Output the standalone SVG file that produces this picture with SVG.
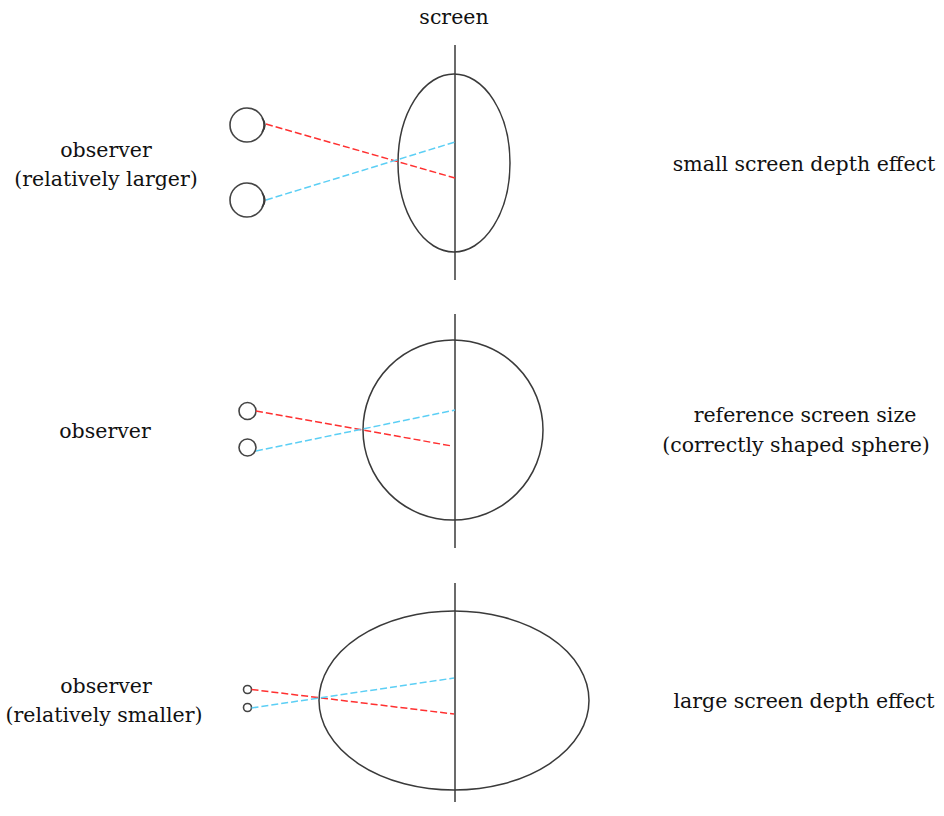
<svg xmlns="http://www.w3.org/2000/svg" width="944" height="816" viewBox="0 0 944 816">
<style>
.bg{fill:#ffffff}
.ln{fill:none;stroke:#3a3a3a;stroke-width:1.5}
.eye{fill:#ffffff;stroke:#444444;stroke-width:1.6}
.red{fill:none;stroke:#ff3030;stroke-width:1.5;stroke-dasharray:7 3}
.blue{fill:none;stroke:#5ccff5;stroke-width:1.5;stroke-dasharray:7 3}
.t{font-family:"DejaVu Serif","Liberation Serif",serif;font-size:20.5px;fill:#111111;text-anchor:middle}
</style>
<rect class="bg" x="0" y="0" width="944" height="816"/>
<g id="screen-label"><text class="t" x="454" y="24">screen</text></g>

<!-- top section -->
<g id="screen-top">
<ellipse class="ln" cx="454" cy="163" rx="56" ry="89"/>
<line class="ln" x1="455" y1="45" x2="455" y2="280"/>
</g>
<g id="eye-top-1">
<circle class="eye" cx="247" cy="125" r="17"/>
<path class="ln" d="M262,118 Q268,125 262,132"/>
</g>
<g id="eye-top-2">
<circle class="eye" cx="247" cy="200" r="17"/>
<path class="ln" d="M262,193 Q268,200 262,207"/>
</g>
<g id="label-top-left"><text class="t" x="106" y="157">observer</text><text class="t" x="106" y="186">(relatively larger)</text></g>
<g id="label-top-right"><text class="t" x="804" y="171">small screen depth effect</text></g>

<!-- middle section -->
<g id="screen-mid">
<circle class="ln" cx="453" cy="430" r="90"/>
<line class="ln" x1="455" y1="314" x2="455" y2="548"/>
</g>
<g id="eye-mid-1"><circle class="eye" cx="247.5" cy="411" r="8.5"/></g>
<g id="eye-mid-2"><circle class="eye" cx="247.5" cy="447.5" r="8.5"/></g>
<g id="label-mid-left"><text class="t" x="105" y="438">observer</text></g>
<g id="label-mid-right"><text class="t" x="805" y="422">reference screen size</text><text class="t" x="796" y="452">(correctly shaped sphere)</text></g>

<!-- bottom section -->
<g id="screen-bot">
<ellipse class="ln" cx="454" cy="700.5" rx="135" ry="89.5"/>
<line class="ln" x1="455" y1="583" x2="455" y2="802"/>
</g>
<g id="eye-bot-1"><circle class="eye" cx="247.5" cy="689.5" r="4"/></g>
<g id="eye-bot-2"><circle class="eye" cx="247.5" cy="707.5" r="4"/></g>
<g id="label-bot-left"><text class="t" x="106" y="693">observer</text><text class="t" x="104" y="722">(relatively smaller)</text></g>
<g id="label-bot-right"><text class="t" x="804" y="708">large screen depth effect</text></g>

<g id="connectors">
<line class="red" x1="266" y1="124" x2="455" y2="178"/>
<line class="blue" x1="266" y1="200" x2="455" y2="142"/>
<line class="red" x1="256" y1="411" x2="452" y2="446"/>
<line class="blue" x1="256" y1="451" x2="455" y2="410"/>
<line class="red" x1="251.5" y1="689.5" x2="454" y2="714"/>
<line class="blue" x1="251.5" y1="708" x2="454" y2="678"/>
</g>
</svg>
